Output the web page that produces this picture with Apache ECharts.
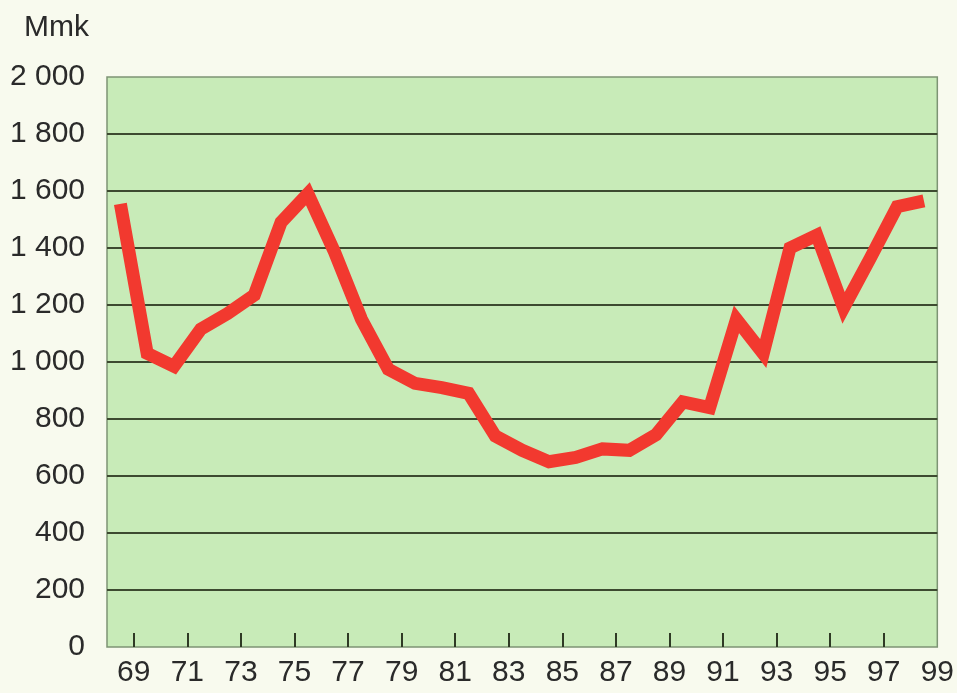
<!DOCTYPE html>
<html>
<head>
<meta charset="utf-8">
<script src="https://cdn.jsdelivr.net/npm/echarts@6/dist/echarts.min.js"></script>
<style>
  html, body { margin: 0; padding: 0; background: #f8faee; }
  #chart { width: 957px; height: 693px; }
</style>
</head>
<body>
<div id="chart"></div>
<script>
// years plotted at mid-year (68.5 = 1968)
var years = [68.5, 69.5, 70.5, 71.5, 72.5, 73.5, 74.5, 75.5, 76.5, 77.5,
  78.5, 79.5, 80.5, 81.5, 82.5, 83.5, 84.5, 85.5, 86.5, 87.5,
  88.5, 89.5, 90.5, 91.5, 92.5, 93.5, 94.5, 95.5, 96.5, 97.5, 98.5];
var values = [1555, 1030, 985, 1115, 1170, 1235, 1490, 1590, 1385, 1150,
  975, 925, 910, 890, 740, 690, 650, 665, 695, 690,
  745, 860, 840, 1150, 1030, 1400, 1445, 1190, 1365, 1545, 1565];
var tickYears = [69, 71, 73, 75, 77, 79, 81, 83, 85, 87, 89, 91, 93, 95, 97];
var labelYears = [69, 71, 73, 75, 77, 79, 81, 83, 85, 87, 89, 91, 93, 95, 97, 99];

var chart = echarts.init(document.getElementById('chart'));

var points = years.map(function (y, i) { return [y, values[i]]; });

chart.setOption({
  backgroundColor: '#f8faee',
  animation: false,
  title: {
    text: 'Mmk',
    left: 19, top: 8,
    textStyle: { fontFamily: 'Liberation Sans', fontSize: 30, fontWeight: 'normal', color: '#2a2a2a' }
  },
  grid: {
    left: 107, right: 18, top: 77, bottom: 46,
    show: true,
    backgroundColor: '#c8ebb8',
    borderColor: '#7d9474',
    borderWidth: 1.5
  },
  xAxis: {
    type: 'value',
    min: 68, max: 99,
    axisLine: { show: false },
    splitLine: { show: false },
    axisTick: {
      inside: true, length: 14,
      customValues: tickYears,
      lineStyle: { color: '#2f3a25', width: 2 }
    },
    axisLabel: {
      customValues: labelYears,
      margin: 11,
      fontFamily: 'Liberation Sans', fontSize: 30, color: '#2a2a2a'
    }
  },
  yAxis: {
    type: 'value',
    min: 0, max: 2000, interval: 200,
    axisLine: { show: false },
    axisTick: { show: false },
    splitLine: {
      showMinLine: false, showMaxLine: false,
      lineStyle: { color: '#3d4a30', width: 2 }
    },
    axisLabel: {
      margin: 22,
      fontFamily: 'Liberation Sans', fontSize: 30, color: '#2a2a2a',
      formatter: function (v) {
        return String(v).replace(/\B(?=(\d{3})+(?!\d))/g, ' ');
      }
    }
  },
  series: [{
    type: 'line',
    data: points,
    symbol: 'none',
    lineStyle: { color: '#f2392f', width: 13, join: 'miter', cap: 'butt' }
  }]
});
</script>
</body>
</html>
